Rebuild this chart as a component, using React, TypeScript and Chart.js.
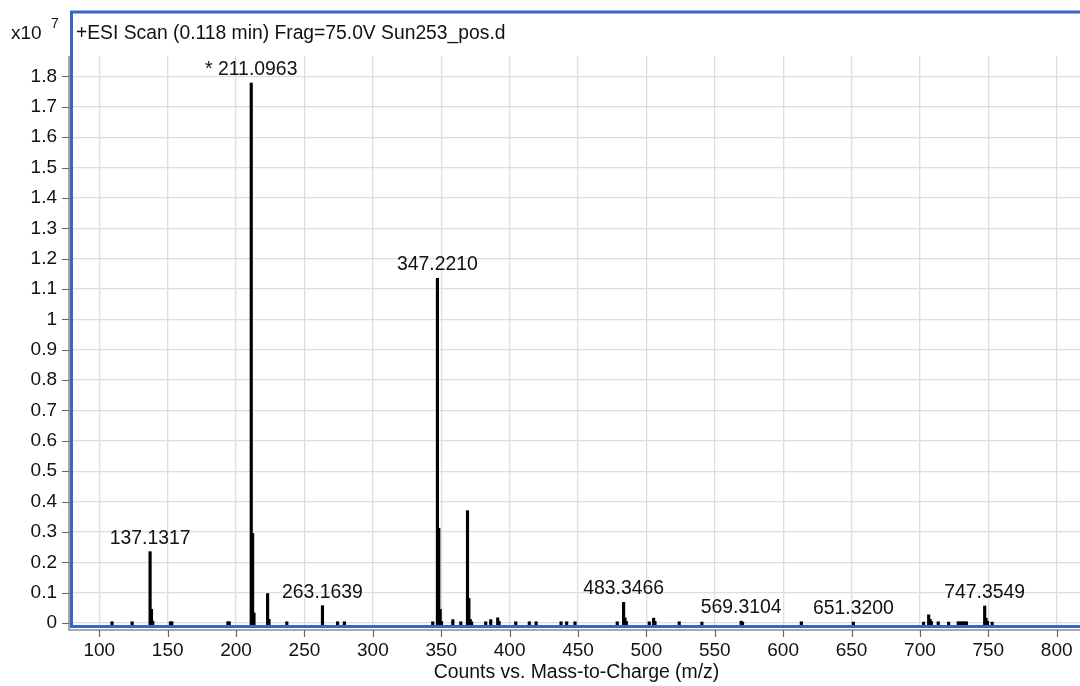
import React, { useEffect, useRef } from "react";
import { Chart, registerables } from "chart.js";

Chart.register(...registerables);

// m/z of each centroid peak
const PEAK_MZ = [
  109.3, 124.0, 137.1317, 138.14, 139.1, 152.0, 153.0, 194.0, 195.0,
  211.0963, 212.1, 213.1, 223.06, 224.07, 237.1, 263.1639, 274.2, 279.2,
  343.8, 347.221, 348.22, 349.23, 350.2, 358.5, 364.3, 369.2, 370.2, 371.2,
  372.2, 382.5, 386.2, 391.3, 392.3, 404.5, 414.4, 419.4, 437.6, 441.7,
  447.8, 478.7, 483.3466, 484.35, 485.35, 502.1, 505.3, 506.3, 524.0, 540.6,
  569.3104, 570.3, 613.3, 651.32, 702.7, 706.4, 707.4, 708.4, 713.4, 721.0,
  728.0, 729.5, 731.0, 732.5, 734.0, 747.3549, 748.36, 749.36, 752.8,
];
// intensity of each peak, in units of 10^7 counts
const PEAK_INTENSITY = [
  0.004, 0.004, 0.235, 0.045, 0.006, 0.004, 0.004, 0.004, 0.004,
  1.778, 0.295, 0.033, 0.097, 0.012, 0.004, 0.057, 0.004, 0.004,
  0.004, 1.135, 0.312, 0.045, 0.005, 0.011, 0.004, 0.37, 0.081, 0.012,
  0.004, 0.004, 0.011, 0.017, 0.005, 0.004, 0.004, 0.004, 0.004, 0.004,
  0.004, 0.004, 0.068, 0.017, 0.005, 0.004, 0.016, 0.005, 0.004, 0.003,
  0.006, 0.003, 0.004, 0.003, 0.003, 0.027, 0.012, 0.005, 0.004, 0.003,
  0.004, 0.004, 0.004, 0.004, 0.004, 0.056, 0.016, 0.006, 0.003,
];

// annotated peaks
const LABEL_MZ = [137.1317, 211.0963, 263.1639, 347.221, 483.3466, 569.3104, 651.32, 747.3549];
const LABEL_TEXT = ["137.1317", "* 211.0963", "263.1639", "347.2210", "483.3466", "569.3104", "651.3200", "747.3549"];

const X_TICKS = [100, 150, 200, 250, 300, 350, 400, 450, 500, 550, 600, 650, 700, 750, 800];
const Y_TICKS = [0, 0.1, 0.2, 0.3, 0.4, 0.5, 0.6, 0.7, 0.8, 0.9, 1, 1.1, 1.2, 1.3, 1.4, 1.5, 1.6, 1.7, 1.8];
const Y_TICK_LABELS = ["0", "0.1", "0.2", "0.3", "0.4", "0.5", "0.6", "0.7", "0.8", "0.9", "1", "1.1", "1.2", "1.3", "1.4", "1.5", "1.6", "1.7", "1.8"];

const TITLE = "+ESI Scan (0.118 min) Frag=75.0V Sun253_pos.d";
const X_TITLE = "Counts vs. Mass-to-Charge (m/z)";
const Y_SCALE_PREFIX = "x10";
const Y_SCALE_EXP = "7";

const X_MIN = 80.77;
const X_MAX = 817.04;
const Y_MIN = -0.0066;
const Y_MAX = 1.8675;

const FONT = "'Liberation Sans', Arial, Helvetica, sans-serif";
const BLUE = "#3468c8";
const AXIS_GREY = "#8c8c8c";
const GRID = "#dedede";
const TEXT = "#111111";

const decorPlugin = {
  id: "decor",
  beforeDraw(chart: any) {
    const ctx = chart.ctx;
    ctx.save();
    ctx.fillStyle = "#ffffff";
    ctx.fillRect(0, 0, chart.width, chart.height);
    ctx.restore();
  },
  afterDraw(chart: any) {
    const ctx = chart.ctx;
    const { left, top, bottom, right } = chart.chartArea;
    const xs = chart.scales.x;
    const ys = chart.scales.y;
    ctx.save();

    // offset axis lines and tick marks
    const axX = left - 4;
    const axY = bottom + 5;
    ctx.strokeStyle = AXIS_GREY;
    ctx.lineWidth = 1.5;
    ctx.beginPath();
    ctx.moveTo(axX, top);
    ctx.lineTo(axX, axY);
    ctx.lineTo(right, axY);
    ctx.stroke();
    ctx.strokeStyle = "#666666";
    ctx.lineWidth = 1.2;
    ctx.beginPath();
    Y_TICKS.forEach((v) => {
      const py = Math.round(ys.getPixelForValue(v)) + 0.5;
      ctx.moveTo(axX - 7, py);
      ctx.lineTo(axX, py);
    });
    X_TICKS.forEach((v) => {
      const px = Math.round(xs.getPixelForValue(v)) + 0.5;
      ctx.moveTo(px, axY);
      ctx.lineTo(px, axY + 7);
    });
    ctx.stroke();

    // blue frame
    ctx.strokeStyle = BLUE;
    ctx.lineWidth = 3;
    ctx.strokeRect(left - 1.5, 12, right - left + 40, bottom + 1.5 - 12);

    // title and exponent
    ctx.fillStyle = TEXT;
    ctx.textAlign = "left";
    ctx.textBaseline = "alphabetic";
    ctx.font = `19.3px ${FONT}`;
    ctx.fillText(TITLE, left + 3, 39);
    ctx.font = `19px ${FONT}`;
    ctx.fillText(Y_SCALE_PREFIX, 11, 39);
    ctx.font = `14px ${FONT}`;
    ctx.fillText(Y_SCALE_EXP, 51, 28);

    // peak annotations
    ctx.font = `19.4px ${FONT}`;
    ctx.textAlign = "center";
    LABEL_MZ.forEach((mz, i) => {
      let h = 0;
      PEAK_MZ.forEach((m, j) => {
        if (Math.abs(m - mz) < 0.5) h = Math.max(h, PEAK_INTENSITY[j]);
      });
      const px = xs.getPixelForValue(mz);
      const py = ys.getPixelForValue(h) - 8;
      ctx.fillText(LABEL_TEXT[i], px, py);
    });
    ctx.restore();
  },
};

export default function App() {
  const canvasRef = useRef<HTMLCanvasElement | null>(null);

  useEffect(() => {
    if (!canvasRef.current) return;
    const chart = new Chart(canvasRef.current, {
      type: "bar",
      data: {
        datasets: [
          {
            data: PEAK_MZ.map((x, i) => ({ x, y: PEAK_INTENSITY[i] })),
            backgroundColor: "#000000",
            borderWidth: 0,
            barThickness: 2.5,
            base: Y_MIN,
          } as any,
        ],
      },
      options: {
        animation: false,
        responsive: false,
        maintainAspectRatio: false,
        devicePixelRatio: 1,
        layout: { padding: { top: 56, left: 0, right: 0, bottom: 0 } },
        plugins: { legend: { display: false }, tooltip: { enabled: false } },
        scales: {
          x: {
            type: "linear",
            min: X_MIN,
            max: X_MAX,
            offset: false,
            afterBuildTicks: (s: any) => {
              s.ticks = X_TICKS.map((v) => ({ value: v }));
            },
            afterFit: (s: any) => {
              s.height = 61;
              s.paddingLeft = 0;
              s.paddingRight = 0;
            },
            grid: { color: GRID, lineWidth: 1.3, drawTicks: false, offset: false },
            border: { display: false },
            ticks: {
              padding: 14,
              color: TEXT,
              font: { family: FONT, size: 19 },
              maxRotation: 0,
              autoSkip: false,
              callback: (v: any) => String(v),
            },
            title: {
              display: true,
              text: X_TITLE,
              color: TEXT,
              font: { family: FONT, size: 19.4 },
              padding: { top: 0, bottom: 2 },
            },
          },
          y: {
            type: "linear",
            min: Y_MIN,
            max: Y_MAX,
            afterBuildTicks: (s: any) => {
              s.ticks = Y_TICKS.map((v) => ({ value: v }));
            },
            afterFit: (s: any) => {
              s.width = 73;
              s.paddingTop = 0;
              s.paddingBottom = 0;
            },
            grid: { color: GRID, lineWidth: 1.3, drawTicks: false },
            border: { display: false },
            ticks: {
              padding: 16,
              color: TEXT,
              font: { family: FONT, size: 19 },
              autoSkip: false,
              callback: (_v: any, i: number) => Y_TICK_LABELS[i],
            },
          },
        },
      } as any,
      plugins: [decorPlugin],
    });
    return () => chart.destroy();
  }, []);

  return (
    <div style={{ position: "absolute", left: 0, top: 0, width: 1080, height: 686, overflow: "hidden", background: "#fff" }}>
      <canvas ref={canvasRef} width={1080} height={686} style={{ display: "block", width: 1080, height: 686 }} />
    </div>
  );
}
